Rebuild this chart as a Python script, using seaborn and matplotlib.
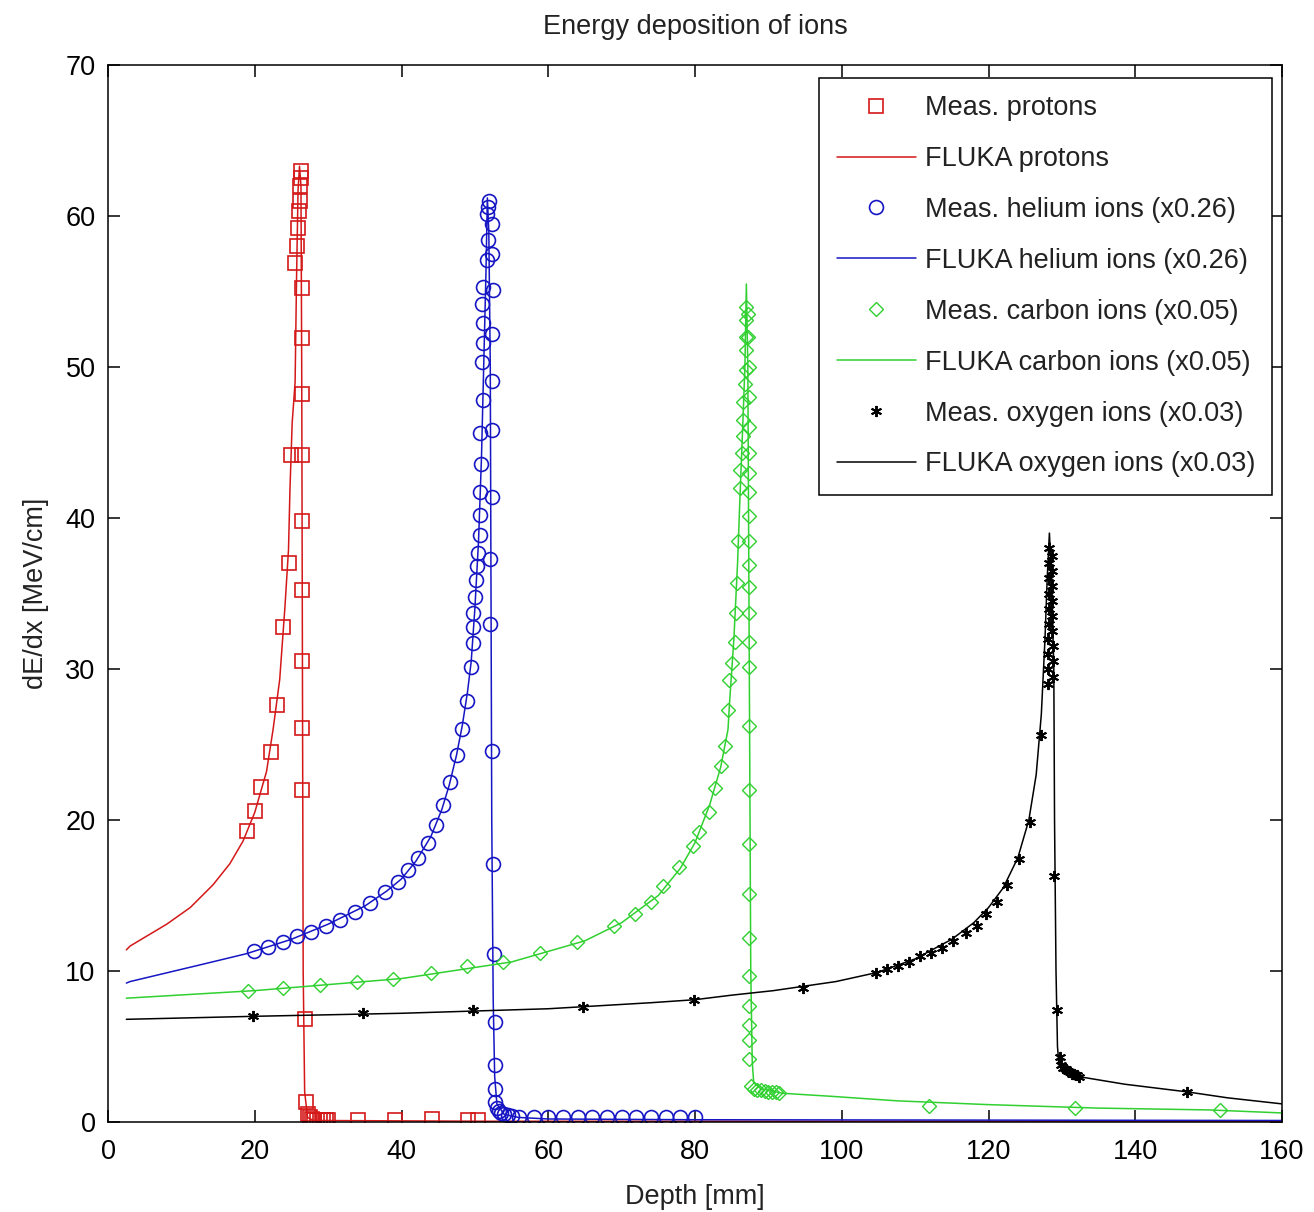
import matplotlib
matplotlib.use("Agg")
import matplotlib.pyplot as plt
import seaborn as sns
import pandas as pd

# ---------------- data ----------------
p_meas_x = [18.9, 20.1, 20.9, 22.2, 23.0, 23.8, 24.6, 24.9,
            25.5, 25.7, 25.9, 26.0, 26.1, 26.2, 26.3, 26.3,
            26.4, 26.4, 26.5, 26.5, 26.5, 26.5, 26.5, 26.5, 26.5,
            26.8, 27.0,
            27.2, 27.5, 27.8, 28.1, 28.5, 28.9, 29.3, 29.7, 30.0,
            34.1, 39.1, 44.1, 49.1, 50.4]
p_meas_y = [19.3, 20.6, 22.2, 24.5, 27.6, 32.8, 37.0, 44.2,
            56.9, 58.0, 59.2, 60.3, 61.0, 62.0, 62.5, 63.0,
            55.2, 51.9, 48.2, 44.2, 39.8, 35.2, 30.5, 26.1, 22.0,
            6.8, 1.3,
            0.5, 0.3, 0.2, 0.1, 0.1, 0.1, 0.1, 0.1, 0.1,
            0.1, 0.1, 0.2, 0.1, 0.1]

p_fluka_x = [2.5, 3.0, 8.0, 11.2, 14.3, 16.6, 18.4, 20.0,
             21.6, 22.5, 23.4, 24.1, 24.6, 24.8, 25.1, 25.5,
             25.7, 25.9, 26.1, 26.3, 26.4, 26.5, 26.6, 26.8,
             27.2, 28.0, 52.0, 160.0]
p_fluka_y = [11.4, 11.65, 13.1, 14.2, 15.7, 17.1, 18.6, 20.5,
             23.2, 26.0, 29.3, 34.0, 37.9, 41.9, 46.3, 49.0,
             56.0, 61.7, 63.3, 62.0, 50.0, 30.0, 10.0, 2.0,
             0.3, 0.1, 0.05, 0.05]

h_meas_x = [19.9, 21.8, 23.8, 25.7, 27.7, 29.7, 31.6, 33.6, 35.7, 37.7,
            39.5, 40.9, 42.2, 43.6, 44.7, 45.6, 46.6, 47.5, 48.2, 48.9,
            49.5, 49.7, 49.7, 49.8, 50.0, 50.2, 50.3, 50.4, 50.7, 50.7,
            50.7, 50.9, 50.7, 51.1, 51.0, 51.1, 51.1, 51.0, 51.1, 51.6,
            51.8, 51.6, 51.8, 51.9,
            52.3, 52.4, 52.5, 52.4, 52.3, 52.3, 52.3, 52.0, 52.0, 52.4,
            52.5, 52.6, 52.7, 52.7, 52.7, 52.8, 53.0, 53.3, 53.6, 54.0,
            54.5, 55.0, 56.0, 58.0, 60.0, 62.0, 64.0, 66.0, 68.0, 70.0,
            72.0, 74.0, 76.0, 78.0, 80.0]
h_meas_y = [11.3, 11.6, 11.9, 12.3, 12.6, 13.0, 13.4, 13.9, 14.5, 15.2,
            15.9, 16.7, 17.5, 18.5, 19.7, 21.0, 22.5, 24.3, 26.0, 27.9,
            30.1, 31.7, 32.8, 33.7, 34.8, 35.9, 36.8, 37.7, 38.9, 40.2,
            41.7, 43.6, 45.6, 47.8, 50.3, 51.6, 52.9, 54.2, 55.3, 57.1,
            58.4, 60.1, 60.6, 61.0,
            59.5, 57.5, 55.1, 52.2, 49.1, 45.8, 41.4, 37.3, 33.0, 24.6,
            17.1, 11.1, 6.6, 3.8, 2.2, 1.3, 0.9, 0.7, 0.6, 0.5,
            0.45, 0.4, 0.3, 0.3, 0.3, 0.3, 0.3, 0.3, 0.3, 0.3,
            0.3, 0.3, 0.3, 0.3, 0.3]

h_fluka_x = [2.5, 3.0, 12.5, 18.9, 25.0, 30.0, 35.0, 38.0, 40.0, 42.0,
             44.0, 45.5, 46.5, 47.5, 48.3, 49.0, 49.5, 50.0, 50.5, 50.9,
             51.2, 51.5, 51.7, 51.9, 52.1, 52.2, 52.3, 52.5, 52.7, 53.0,
             54.0, 56.0, 60.0, 80.0, 160.0]
h_fluka_y = [9.2, 9.3, 10.4, 11.15, 12.1, 13.1, 14.3, 15.3, 16.1, 17.3,
             18.9, 20.7, 22.3, 24.3, 26.3, 28.5, 30.5, 34.0, 38.5, 44.0,
             50.0, 56.0, 61.2, 59.0, 50.0, 35.0, 20.0, 8.0, 3.0, 1.2,
             0.5, 0.3, 0.2, 0.15, 0.1]

c_meas_x = [19.1, 23.8, 28.9, 33.9, 38.9, 44.0, 48.9, 53.8, 58.9, 63.9,
            68.9, 71.8, 74.0, 75.7, 77.8, 79.7, 80.6, 81.9, 82.7, 83.6,
            84.1, 84.5, 84.7, 85.0, 85.4, 85.6, 85.7, 85.8, 86.1, 86.2,
            86.4, 86.5, 86.5, 86.6, 86.8, 86.9, 86.9, 87.0, 87.0, 87.0,
            87.2, 87.2, 87.3, 87.3, 87.3, 87.3, 87.3, 87.3, 87.3, 87.3,
            87.3, 87.3, 87.3, 87.3, 87.3, 87.4, 87.4, 87.4, 87.4, 87.4,
            87.4, 87.4, 87.4, 87.4, 87.4, 87.6, 88.0, 88.5, 89.0, 89.5,
            90.0, 90.5, 91.0, 91.5, 111.9, 131.8, 151.5]
c_meas_y = [8.7, 8.9, 9.1, 9.3, 9.5, 9.9, 10.3, 10.6, 11.2, 11.9,
            13.0, 13.8, 14.6, 15.6, 16.9, 18.3, 19.2, 20.5, 22.1, 23.6,
            24.9, 27.3, 29.3, 30.4, 31.8, 33.7, 35.7, 38.5, 42.0, 43.2,
            44.3, 45.4, 46.5, 47.7, 48.9, 49.8, 51.1, 52.0, 53.1, 54.0,
            53.5, 52.0, 50.0, 48.0, 46.0, 44.3, 43.0, 41.7, 40.1, 38.5,
            36.9, 35.4, 33.7, 31.8, 30.1, 26.2, 22.0, 18.4, 15.1, 12.2,
            9.7, 7.7, 6.4, 5.4, 4.2, 2.4, 2.2, 2.1, 2.1, 2.05,
            2.0, 2.0, 2.0, 1.95, 1.05, 0.95, 0.8]

c_fluka_x = [2.5, 20.0, 40.0, 55.0, 65.0, 70.0, 75.0, 78.0, 80.0, 82.0,
             83.5, 84.5, 84.7, 85.3, 85.8, 86.1, 86.5, 86.8, 87.0, 87.2,
             87.3, 87.4, 87.5, 87.6, 87.8, 88.0, 89.0, 92.0, 98.6, 107.6,
             120.0, 135.0, 150.0, 160.0]
c_fluka_y = [8.2, 8.7, 9.5, 10.6, 12.0, 13.2, 15.0, 16.8, 18.5, 21.0,
             23.5, 26.0, 27.7, 32.0, 37.0, 41.0, 46.0, 50.0, 55.5, 50.0,
             40.0, 30.0, 20.0, 10.0, 4.0, 2.6, 2.2, 1.9, 1.7, 1.4,
             1.15, 0.92, 0.8, 0.6]

o_meas_x = [19.8, 34.7, 49.7, 64.7, 79.8, 94.7, 104.7, 106.2, 107.7, 109.1,
            110.7, 112.1, 113.6, 115.2, 116.9, 118.4, 119.7, 121.2, 122.5, 124.2,
            125.7, 127.1,
            128.1, 128.1, 128.1, 128.1, 128.2, 128.2, 128.2, 128.3, 128.3, 128.3,
            128.7, 128.7, 128.7, 128.7, 128.7, 128.7, 128.8, 128.8, 128.8,
            128.9, 129.3, 129.7, 129.9, 130.2, 130.5, 130.8, 131.1, 131.4, 131.7,
            132.0, 132.4, 147.0]
o_meas_y = [7.0, 7.2, 7.4, 7.6, 8.1, 8.9, 9.9, 10.1, 10.3, 10.6,
            11.0, 11.2, 11.5, 12.0, 12.5, 13.0, 13.8, 14.6, 15.7, 17.4,
            19.9, 25.6,
            29.0, 30.0, 31.0, 32.0, 33.0, 34.0, 35.0, 36.0, 37.0, 38.0,
            37.5, 36.5, 35.5, 34.5, 33.5, 32.5, 31.5, 30.5, 29.5,
            16.3, 7.4, 4.3, 3.8, 3.6, 3.5, 3.4, 3.3, 3.2, 3.15,
            3.1, 3.0, 2.0]

o_fluka_x = [2.5, 20.0, 40.0, 60.0, 74.0, 80.0, 85.0, 90.7, 99.2, 104.8,
             110.0, 115.0, 118.0, 120.0, 122.0, 124.0, 125.5, 126.5, 127.2, 127.7,
             128.0, 128.3, 128.6, 128.9, 129.0, 129.2, 129.4, 129.6, 130.5, 133.0,
             138.6, 147.0, 152.6, 160.0]
o_fluka_y = [6.8, 7.0, 7.2, 7.5, 7.9, 8.1, 8.4, 8.7, 9.3, 9.9,
             10.8, 12.1, 13.2, 14.2, 15.5, 17.5, 20.0, 23.0, 27.0, 32.0,
             36.0, 39.0, 36.0, 30.0, 20.0, 10.0, 5.0, 3.8, 3.3, 2.95,
             2.5, 2.0, 1.6, 1.2]

labels = ["Meas. protons", "FLUKA protons",
          "Meas. helium ions (x0.26)", "FLUKA helium ions (x0.26)",
          "Meas. carbon ions (x0.05)", "FLUKA carbon ions (x0.05)",
          "Meas. oxygen ions (x0.03)", "FLUKA oxygen ions (x0.03)"]

x_ticks = [0, 20, 40, 60, 80, 100, 120, 140, 160]
y_ticks = [0, 10, 20, 30, 40, 50, 60, 70]

# ---------------- styling ----------------
sns.set_theme(style="white")
plt.rcParams["font.family"] = ["Liberation Sans", "DejaVu Sans"]
plt.rcParams.update({
    "xtick.direction": "in", "ytick.direction": "in",
    "xtick.top": True, "ytick.right": True,
    "xtick.bottom": True, "ytick.left": True,
    "xtick.major.size": 8.5, "ytick.major.size": 8.5,
    "xtick.major.width": 1.1, "ytick.major.width": 1.1,
    "xtick.color": "black", "ytick.color": "black",
    "axes.edgecolor": "black", "axes.linewidth": 1.1,
    "text.color": "#222222", "axes.labelcolor": "#222222",
})

FS = 19.5
RED, BLUE, GREEN, BLACK = "#d41818", "#1616c4", "#30d030", "#000000"

fig = plt.figure(figsize=(13.14, 12.12), dpi=100)
ax = fig.add_axes([108 / 1314, 90 / 1212, 1174 / 1314, 1057 / 1212])

series = [
    (p_meas_x, p_meas_y, p_fluka_x, p_fluka_y, RED, "s", 10.0, 1.2),
    (h_meas_x, h_meas_y, h_fluka_x, h_fluka_y, BLUE, "o", 10.0, 1.2),
    (c_meas_x, c_meas_y, c_fluka_x, c_fluka_y, GREEN, "D", 7.0, 1.0),
    (o_meas_x, o_meas_y, o_fluka_x, o_fluka_y, BLACK, (6, 2, 0), 8.0, 1.4),
]

for i, (mx, my, fx, fy, col, mk, ms, mew) in enumerate(series):
    dm = pd.DataFrame({"x": mx, "y": my})
    df = pd.DataFrame({"x": fx, "y": fy})
    sns.lineplot(data=dm, x="x", y="y", ax=ax, estimator=None, sort=False,
                 errorbar=None, linestyle="", marker=mk, markersize=ms,
                 markerfacecolor="none", markeredgecolor=col,
                 markeredgewidth=mew, color=col, label=labels[2 * i])
    sns.lineplot(data=df, x="x", y="y", ax=ax, estimator=None, sort=False,
                 errorbar=None, color=col, linewidth=1.1,
                 label=labels[2 * i + 1])

ax.set_xlim(0, 160)
ax.set_ylim(0, 70)
ax.set_xticks(x_ticks)
ax.set_yticks(y_ticks)
ax.set_xticklabels([str(t) for t in x_ticks], fontsize=FS)
ax.set_yticklabels([str(t) for t in y_ticks], fontsize=FS)
ax.tick_params(axis="x", pad=12)
ax.tick_params(axis="y", pad=9)
for s in ax.spines.values():
    s.set_visible(True)
    s.set_color("black")

ax.set_xlabel("Depth [mm]", fontsize=FS, labelpad=14)
ax.set_ylabel("dE/dx [MeV/cm]", fontsize=FS, labelpad=12)
ax.set_title("Energy deposition of ions", fontsize=FS, pad=22)

handles, labs = ax.get_legend_handles_labels()
leg = ax.legend(handles, labs, loc="upper right",
                bbox_to_anchor=(1164 / 1174, (1122 - 78) / 1057),
                borderaxespad=0, fontsize=FS, frameon=True, fancybox=False,
                framealpha=1, edgecolor="black", handlelength=2.95,
                handletextpad=0.3, labelspacing=0.92, borderpad=0.63,
                numpoints=1)
leg.get_frame().set_linewidth(1.1)

fig.savefig("out.png", dpi=100)
